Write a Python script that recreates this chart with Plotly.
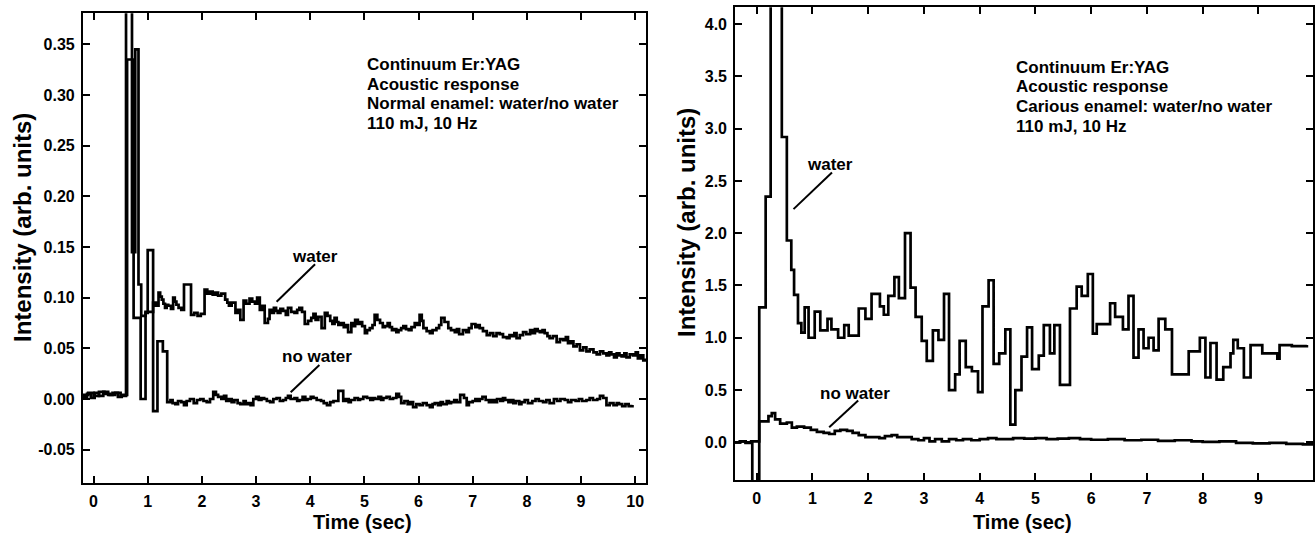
import plotly.graph_objects as go

W, H = 1315, 533
FONT = "Liberation Sans, Arial, Helvetica, sans-serif"

# ---------------- data: left panel (normal enamel) ----------------
# (time [s], intensity) step samples
left_water = [
    (-0.2, 0.004), (-0.1, 0.006), (0.0, 0.003), (0.1, 0.007), (0.2, 0.005), (0.3, 0.004),
    (0.4, 0.006), (0.5, 0.003), (0.6, 0.40), (0.71, 0.145), (0.77, 0.345), (0.83, 0.113),
    (0.88, 0.082), (0.96, 0.086),
    (1.10, 0.095), (1.15, 0.092), (1.20, 0.105), (1.23, 0.101), (1.26, 0.098), (1.29, 0.094),
    (1.32, 0.090), (1.35, 0.093), (1.38, 0.092), (1.43, 0.089), (1.47, 0.100), (1.50, 0.096),
    (1.53, 0.093), (1.57, 0.090), (1.62, 0.088), (1.67, 0.113), (1.80, 0.083), (1.86, 0.085),
    (1.92, 0.082), (1.98, 0.084), (2.05, 0.108), (2.10, 0.104), (2.15, 0.106), (2.20, 0.103),
    (2.25, 0.105), (2.30, 0.102), (2.36, 0.104), (2.43, 0.098), (2.47, 0.095), (2.50, 0.092),
    (2.55, 0.095), (2.62, 0.085), (2.66, 0.088), (2.71, 0.078), (2.77, 0.097), (2.82, 0.094),
    (2.88, 0.099), (2.93, 0.096), (2.98, 0.094), (3.02, 0.100), (3.07, 0.088), (3.12, 0.092),
    (3.16, 0.075), (3.22, 0.079), (3.25, 0.088), (3.29, 0.085), (3.33, 0.090), (3.37, 0.087),
    (3.40, 0.085), (3.45, 0.089), (3.50, 0.087), (3.55, 0.083), (3.59, 0.090), (3.65, 0.086),
    (3.71, 0.085), (3.76, 0.088), (3.80, 0.090), (3.85, 0.086), (3.90, 0.074), (3.96, 0.077),
    (4.02, 0.080), (4.06, 0.084), (4.10, 0.078), (4.15, 0.081), (4.21, 0.070), (4.27, 0.085),
    (4.32, 0.082), (4.37, 0.077), (4.41, 0.074), (4.45, 0.080), (4.49, 0.076), (4.52, 0.073),
    (4.57, 0.075), (4.62, 0.071), (4.66, 0.073), (4.70, 0.066), (4.76, 0.075), (4.80, 0.072),
    (4.83, 0.078), (4.88, 0.074), (4.92, 0.076), (4.96, 0.072), (5.01, 0.065), (5.05, 0.068),
    (5.10, 0.070), (5.15, 0.073), (5.19, 0.083), (5.24, 0.078), (5.29, 0.075), (5.34, 0.071),
    (5.38, 0.072), (5.43, 0.075), (5.47, 0.071), (5.51, 0.068), (5.55, 0.069), (5.59, 0.066),
    (5.63, 0.068), (5.68, 0.070), (5.72, 0.072), (5.77, 0.069), (5.82, 0.068), (5.87, 0.071),
    (5.93, 0.075), (5.98, 0.073), (6.02, 0.083), (6.06, 0.077), (6.09, 0.070), (6.15, 0.067),
    (6.21, 0.065), (6.26, 0.068), (6.33, 0.070), (6.38, 0.073), (6.42, 0.080), (6.48, 0.076),
    (6.55, 0.070), (6.60, 0.068), (6.67, 0.066), (6.71, 0.069), (6.75, 0.064), (6.82, 0.068),
    (6.88, 0.066), (6.93, 0.070), (6.98, 0.074), (7.05, 0.071), (7.09, 0.073), (7.13, 0.070),
    (7.19, 0.067), (7.26, 0.063), (7.32, 0.065), (7.38, 0.062), (7.44, 0.065), (7.50, 0.064),
    (7.56, 0.061), (7.63, 0.060), (7.68, 0.063), (7.72, 0.062), (7.77, 0.065), (7.81, 0.060),
    (7.87, 0.063), (7.93, 0.066), (7.99, 0.064), (8.06, 0.068), (8.10, 0.065), (8.15, 0.069),
    (8.20, 0.067), (8.24, 0.066), (8.29, 0.068), (8.33, 0.065), (8.38, 0.062), (8.42, 0.060),
    (8.48, 0.062), (8.55, 0.056), (8.61, 0.059), (8.67, 0.058), (8.72, 0.061), (8.76, 0.055),
    (8.81, 0.057), (8.86, 0.052), (8.92, 0.054), (8.98, 0.048), (9.04, 0.051), (9.10, 0.047),
    (9.16, 0.049), (9.23, 0.046), (9.29, 0.044), (9.35, 0.047), (9.41, 0.045), (9.47, 0.043),
    (9.52, 0.046), (9.56, 0.044), (9.61, 0.041), (9.66, 0.045), (9.71, 0.043), (9.75, 0.042),
    (9.80, 0.045), (9.84, 0.041), (9.90, 0.044), (9.96, 0.043), (10.01, 0.046), (10.05, 0.040),
    (10.10, 0.043), (10.15, 0.038), (10.2, 0.040),
]
left_nowater = [
    (-0.2, 0.002), (-0.12, 0.005), (-0.05, 0.001), (0.02, 0.006), (0.1, 0.003), (0.18, 0.007),
    (0.27, 0.004), (0.35, 0.006), (0.45, 0.002), (0.52, 0.004), (0.62, 0.335), (0.74, 0.080),
    (0.87, 0.000), (0.96, 0.085), (1.0, 0.147), (1.1, -0.012), (1.18, 0.057), (1.28, 0.047),
    (1.36, -0.003), (1.42, -0.001), (1.46, -0.004), (1.51, -0.005), (1.56, -0.002), (1.62, -0.003),
    (1.67, -0.006), (1.72, -0.002), (1.78, 0.000), (1.85, -0.004), (1.91, -0.001), (1.97, 0.000),
    (2.03, -0.002), (2.09, -0.003), (2.15, 0.000), (2.21, 0.007), (2.26, 0.004), (2.30, 0.002),
    (2.36, 0.000), (2.41, 0.003), (2.45, -0.002), (2.50, 0.000), (2.55, -0.003), (2.60, -0.001),
    (2.66, -0.004), (2.71, -0.005), (2.77, -0.002), (2.81, -0.005), (2.85, -0.004), (2.90, -0.006),
    (2.95, 0.000), (3.00, 0.002), (3.05, -0.001), (3.10, 0.001), (3.15, 0.000), (3.20, -0.002),
    (3.26, -0.003), (3.32, 0.000), (3.38, 0.001), (3.44, -0.002), (3.50, -0.001), (3.55, 0.001),
    (3.59, 0.003), (3.64, 0.000), (3.71, 0.001), (3.76, -0.002), (3.80, -0.001), (3.86, 0.002),
    (3.91, -0.001), (3.95, 0.000), (4.01, 0.002), (4.06, 0.001), (4.12, -0.001), (4.20, -0.002),
    (4.25, -0.004), (4.31, -0.006), (4.37, -0.003), (4.43, -0.002), (4.52, 0.008), (4.61, -0.002),
    (4.66, 0.000), (4.71, -0.003), (4.75, -0.001), (4.82, 0.001), (4.88, -0.001), (4.92, 0.000),
    (4.98, 0.002), (5.05, 0.001), (5.11, -0.001), (5.16, 0.001), (5.20, 0.000), (5.26, 0.002),
    (5.31, -0.001), (5.35, 0.001), (5.41, 0.002), (5.47, 0.000), (5.53, 0.001), (5.59, 0.005),
    (5.64, 0.002), (5.68, -0.004), (5.74, -0.002), (5.80, -0.005), (5.85, -0.003), (5.90, -0.008),
    (5.96, -0.005), (6.02, -0.006), (6.08, -0.004), (6.15, -0.006), (6.21, -0.008), (6.26, -0.005),
    (6.30, -0.004), (6.36, -0.006), (6.41, -0.003), (6.45, -0.005), (6.52, -0.002), (6.56, -0.004),
    (6.60, -0.003), (6.66, -0.001), (6.71, -0.003), (6.77, 0.004), (6.84, 0.001), (6.89, -0.006),
    (6.93, -0.003), (7.00, -0.002), (7.05, 0.000), (7.09, -0.002), (7.13, 0.000), (7.18, 0.002),
    (7.24, -0.001), (7.30, -0.003), (7.35, -0.001), (7.40, -0.003), (7.45, 0.000), (7.51, -0.002),
    (7.56, 0.001), (7.60, -0.001), (7.66, -0.003), (7.70, -0.001), (7.75, -0.004), (7.80, -0.002),
    (7.86, -0.005), (7.90, -0.003), (7.96, -0.001), (8.02, -0.004), (8.10, -0.002), (8.16, 0.000),
    (8.22, -0.002), (8.30, -0.003), (8.36, -0.001), (8.42, -0.004), (8.50, 0.000), (8.56, -0.002),
    (8.62, 0.000), (8.70, -0.001), (8.76, -0.003), (8.82, -0.001), (8.90, -0.002), (8.96, 0.000),
    (9.02, -0.002), (9.10, -0.001), (9.16, 0.001), (9.22, -0.001), (9.30, 0.000), (9.35, 0.003),
    (9.41, 0.001), (9.47, -0.006), (9.53, -0.004), (9.60, -0.006), (9.66, -0.004), (9.70, -0.005),
    (9.76, -0.007), (9.82, -0.005), (9.88, -0.007), (9.95, -0.006),
]

# ---------------- data: right panel (carious enamel) ----------------
right_water = [
    (-0.39, 0.00), (-0.3, 0.01), (-0.2, -0.005), (-0.08, -0.40), (0.045, 1.29), (0.16, 2.35),
    (0.25, 4.50), (0.45, 2.92), (0.54, 1.93), (0.62, 1.65), (0.67, 1.41), (0.74, 1.14),
    (0.80, 1.05), (0.86, 1.29), (0.93, 1.00), (1.04, 1.25), (1.14, 1.07), (1.27, 1.18),
    (1.34, 1.08), (1.46, 1.00), (1.57, 1.12), (1.65, 1.02), (1.83, 1.28), (1.95, 1.18),
    (2.06, 1.42), (2.21, 1.30), (2.28, 1.22), (2.36, 1.40), (2.47, 1.58), (2.55, 1.38),
    (2.66, 2.00), (2.76, 1.48), (2.85, 1.20), (2.96, 0.97), (3.05, 0.78), (3.16, 1.07),
    (3.26, 0.98), (3.36, 1.42), (3.45, 0.50), (3.56, 0.65), (3.64, 0.97), (3.75, 0.72),
    (3.86, 0.68), (3.97, 0.48), (4.05, 1.30), (4.16, 1.55), (4.25, 0.75), (4.35, 0.85),
    (4.46, 1.08), (4.55, 0.17), (4.64, 0.50), (4.75, 0.82), (4.85, 1.10), (4.94, 0.70),
    (5.06, 0.83), (5.15, 1.12), (5.26, 0.85), (5.34, 1.12), (5.44, 0.55), (5.62, 1.28),
    (5.74, 1.49), (5.83, 1.40), (5.94, 1.61), (6.03, 1.04), (6.10, 1.13), (6.34, 1.33),
    (6.43, 1.20), (6.57, 1.08), (6.67, 1.40), (6.76, 0.81), (6.85, 1.08), (6.94, 0.90),
    (7.03, 1.00), (7.12, 0.88), (7.21, 1.18), (7.33, 1.08), (7.45, 0.65), (7.75, 0.87),
    (7.95, 1.00), (8.05, 0.62), (8.14, 0.95), (8.25, 0.60), (8.37, 0.72), (8.50, 0.85),
    (8.55, 0.98), (8.63, 0.90), (8.74, 0.62), (8.86, 0.93), (9.07, 0.85), (9.34, 0.80),
    (9.38, 0.93), (9.60, 0.92), (9.87, 0.93),
]
right_nowater = [
    (-0.39, 0.00), (-0.3, 0.01), (-0.2, 0.00), (-0.1, 0.01), (0.045, 0.20), (0.21, 0.25),
    (0.27, 0.28), (0.33, 0.22), (0.42, 0.18), (0.54, 0.19), (0.63, 0.14), (0.72, 0.15),
    (0.85, 0.14), (0.97, 0.12), (1.08, 0.10), (1.20, 0.09), (1.30, 0.08), (1.40, 0.11),
    (1.50, 0.12), (1.62, 0.11), (1.72, 0.09), (1.83, 0.07), (1.95, 0.05), (2.10, 0.05),
    (2.20, 0.04), (2.30, 0.06), (2.42, 0.07), (2.52, 0.05), (2.65, 0.05), (2.78, 0.03),
    (2.90, 0.02), (3.00, 0.04), (3.10, 0.01), (3.20, 0.03), (3.32, 0.01), (3.45, 0.03),
    (3.58, 0.02), (3.70, 0.03), (3.85, 0.02), (4.00, 0.03), (4.15, 0.04), (4.30, 0.03),
    (4.45, 0.03), (4.60, 0.04), (4.80, 0.035), (5.00, 0.04), (5.20, 0.03), (5.40, 0.035),
    (5.60, 0.04), (5.80, 0.03), (6.00, 0.025), (6.30, 0.03), (6.60, 0.02), (6.90, 0.025),
    (7.20, 0.015), (7.50, 0.02), (7.80, 0.01), (8.00, 0.005), (8.30, 0.01), (8.60, -0.005),
    (8.90, -0.01), (9.20, -0.005), (9.50, -0.015), (9.80, -0.02), (9.98, -0.02),
]

left_yticks = [-0.05, 0.00, 0.05, 0.10, 0.15, 0.20, 0.25, 0.30, 0.35]
left_yticktext = ["-0.05", "0.00", "0.05", "0.10", "0.15", "0.20", "0.25", "0.30", "0.35"]
left_xticks = [0, 1, 2, 3, 4, 5, 6, 7, 8, 9, 10]
right_yticks = [0.0, 0.5, 1.0, 1.5, 2.0, 2.5, 3.0, 3.5, 4.0]
right_yticktext = ["0.0", "0.5", "1.0", "1.5", "2.0", "2.5", "3.0", "3.5", "4.0"]
right_xticks = [0, 1, 2, 3, 4, 5, 6, 7, 8, 9]

info_left = ["Continuum Er:YAG", "Acoustic response", "Normal enamel: water/no water", "110 mJ, 10 Hz"]
info_right = ["Continuum Er:YAG", "Acoustic response", "Carious enamel: water/no water", "110 mJ, 10 Hz"]


def unzip(pairs):
    return [p[0] for p in pairs], [p[1] for p in pairs]


def px(x):
    return x / W


def py(y):
    return 1 - y / H


def bold(labels):
    return ["<b>%s</b>" % s for s in labels]


fig = go.Figure()
line = dict(color="black", width=2.7, shape="hv")
for series, xa, ya in [(left_water, "x", "y"), (left_nowater, "x", "y"),
                       (right_water, "x2", "y2"), (right_nowater, "x2", "y2")]:
    t, v = unzip(series)
    fig.add_trace(go.Scatter(x=t, y=v, mode="lines", line=line, xaxis=xa, yaxis=ya,
                             showlegend=False, hoverinfo="skip"))

axis_common = dict(showline=True, linecolor="black", linewidth=1.6, mirror="ticks",
                   ticks="inside", ticklen=7, tickwidth=1.6, tickcolor="black",
                   showgrid=False, zeroline=False)
ytf = dict(family=FONT, size=16, color="black")
xtf = dict(family=FONT, size=16, color="black")

fig.update_layout(
    width=W, height=H, margin=dict(l=0, r=0, t=0, b=0),
    paper_bgcolor="white", plot_bgcolor="white",
    xaxis=dict(domain=[px(82.7), px(646)], range=[-0.2, 10.2], tickvals=left_xticks,
               ticktext=bold([str(v) for v in left_xticks]),
               tickfont=xtf, anchor="y", ticklabelstandoff=3, **axis_common),
    yaxis=dict(domain=[py(482.7), py(13.3)], range=[-0.0826, 0.3806], tickvals=left_yticks,
               ticktext=bold(left_yticktext), tickfont=ytf, anchor="x", ticklabelstandoff=3,
               **axis_common),
    xaxis2=dict(domain=[px(735), px(1313)], range=[-0.39, 9.98], tickvals=right_xticks,
                ticktext=bold([str(v) for v in right_xticks]),
                tickfont=xtf, anchor="y2", ticklabelstandoff=3, **axis_common),
    yaxis2=dict(domain=[py(480), py(7.3)], range=[-0.36, 4.16], tickvals=right_yticks,
                ticktext=bold(right_yticktext), tickfont=ytf, anchor="x2", ticklabelstandoff=3,
                **axis_common),
)

ann = []
title_font = dict(family=FONT, size=24, color="black", weight="bold")
xt_font = dict(family=FONT, size=20, color="black", weight="bold")
ann.append(dict(text="Intensity (arb. units)", x=px(22), y=py(228), xref="paper", yref="paper",
                textangle=-90, showarrow=False, font=title_font, xanchor="center", yanchor="middle"))
ann.append(dict(text="Intensity (arb. units)", x=px(686), y=py(222), xref="paper", yref="paper",
                textangle=-90, showarrow=False, font=title_font, xanchor="center", yanchor="middle"))
ann.append(dict(text="Time (sec)", x=px(362), y=py(522), xref="paper", yref="paper",
                showarrow=False, font=xt_font, xanchor="center", yanchor="middle"))
ann.append(dict(text="Time (sec)", x=px(1022), y=py(522), xref="paper", yref="paper",
                showarrow=False, font=xt_font, xanchor="center", yanchor="middle"))

info_font = dict(family=FONT, size=17, color="black", weight="bold")
for i, s in enumerate(info_left):
    ann.append(dict(text=s, x=px(365), y=py(64.5 + 19.5 * i), xref="paper", yref="paper",
                    showarrow=False, font=info_font, xanchor="left", yanchor="middle"))
for i, s in enumerate(info_right):
    ann.append(dict(text=s, x=px(1013.5), y=py(67.5 + 19.5 * i), xref="paper", yref="paper",
                    showarrow=False, font=info_font, xanchor="left", yanchor="middle"))

lab_font = dict(family=FONT, size=17, color="black", weight="bold")
ann.append(dict(text="water", x=4.08, y=0.141, xref="x", yref="y", showarrow=False,
                font=lab_font, xanchor="center", yanchor="middle"))
ann.append(dict(text="no water", x=4.12, y=0.0424, xref="x", yref="y", showarrow=False,
                font=lab_font, xanchor="center", yanchor="middle"))
ann.append(dict(text="water", x=1.32, y=2.66, xref="x2", yref="y2", showarrow=False,
                font=lab_font, xanchor="center", yanchor="middle"))
ann.append(dict(text="no water", x=1.76, y=0.47, xref="x2", yref="y2", showarrow=False,
                font=lab_font, xanchor="center", yanchor="middle"))
fig.update_layout(annotations=ann)

lw = dict(color="black", width=2)
shapes = [
    dict(type="line", xref="x", yref="y", x0=4.09, y0=0.133, x1=3.38, y1=0.096, line=lw),
    dict(type="line", xref="x", yref="y", x0=4.17, y0=0.0336, x1=3.64, y1=0.0066, line=lw),
    dict(type="line", xref="x2", yref="y2", x0=1.35, y0=2.58, x1=0.66, y1=2.23, line=lw),
    dict(type="line", xref="x2", yref="y2", x0=1.82, y0=0.40, x1=1.30, y1=0.145, line=lw),
]
fig.update_layout(shapes=shapes)

fig.write_html("out.html")
